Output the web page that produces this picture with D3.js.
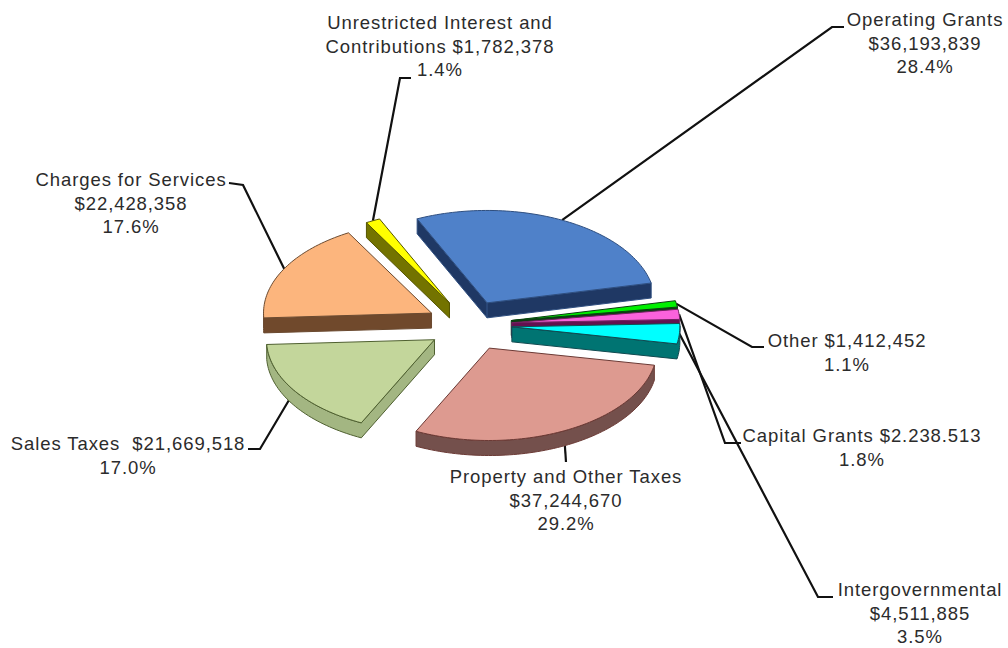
<!DOCTYPE html>
<html>
<head>
<meta charset="utf-8">
<script src="https://cdn.jsdelivr.net/npm/d3@7/dist/d3.min.js"></script>
<style>
  html, body { margin: 0; padding: 0; background: #fff; }
  svg { display: block; }
  text { font-family: "Liberation Sans", Arial, sans-serif; font-size: 18.5px; letter-spacing: 0.92px; fill: #2b2b2b; text-anchor: middle; }
</style>
</head>
<body>
<svg id="chart" width="1008" height="648"></svg>
<script>
// Revenue sources, clockwise from the start of the first slice
const categories = ["Operating Grants", "Other", "Capital Grants", "Intergovernmental",
  "Property and Other Taxes", "Sales Taxes", "Charges for Services",
  "Unrestricted Interest and Contributions"];
const amounts = [36193839, 1412452, 2238513, 4511885, 37244670, 21669518, 22428358, 1782378];
const percents = ["28.4%", "1.1%", "1.8%", "3.5%", "29.2%", "17.0%", "17.6%", "1.4%"];
const topColors = ["#4f81c9", "#00f000", "#fb62dc", "#00ffff", "#dd9a90", "#c3d69b", "#fcb57d", "#ffff00"];
const sideColors = ["#1f3864", "#0b3d12", "#63104f", "#007472", "#74504c", "#a3b682", "#70492c", "#737300"];
const edgeColors = ["#2f4f80", "#0a4010", "#70205f", "#104a50", "#6b3a35", "#4f6030", "#6b4a30", "#555500"];
const labelLines = [
  ["Operating Grants", "$36,193,839", "28.4%"],
  ["Other $1,412,452", "1.1%"],
  ["Capital Grants $2.238.513", "1.8%"],
  ["Intergovernmental", "$4,511,885", "3.5%"],
  ["Property and Other Taxes", "$37,244,670", "29.2%"],
  ["Sales Taxes  $21,669,518", "17.0%"],
  ["Charges for Services", "$22,428,358", "17.6%"],
  ["Unrestricted Interest and", "Contributions $1,782,378", "1.4%"]
];
// Label anchor (centre x, first baseline y) and leader-line bends, per slice
const labelPos = [[925, 26], [847, 347], [862, 442], [920, 596], [566, 483], [128, 450], [131, 186], [440, 29]];
const leaderBends = [
  [[832, 27], [844, 27]],
  [[752, 347], [764, 347]],
  [[725, 443], [741, 443]],
  [[818, 597], [833, 597]],
  [[566, 462]],
  [[260, 449], [248, 449]],
  [[243, 185], [229, 183]],
  [[400, 78], [411, 78]]
];
// Small hand placement on top of the regular explosion
const sliceNudge = [[0, 0], [0, 0], [0, 0], [0, 0], [2, 1], [5, 1], [4, 0], [3, 0]];
const drawOrder = [0, 1, 2, 3, 7, 6, 5, 4];

const cx = 467, cy = 325, radius = 168, tilt = 0.55, explode = 45, depth = 15, lineGap = 23.5;
const startAngle = -24.6 * Math.PI / 180;

const svg = d3.select("#chart");
const xScale = d3.scaleLinear().domain([-1, 1]).range([-radius, radius]);
const yScale = d3.scaleLinear().domain([-1, 1]).range([-radius * tilt, radius * tilt]);

const arcs = d3.pie().sort(null).value(d => d)
  .startAngle(startAngle).endAngle(startAngle + 2 * Math.PI)(amounts);

// Screen position of a unit-circle point on the tilted disc
const project = (a, r, ox, oy) => [ox + xScale(r * Math.sin(a)), oy - yScale(r * Math.cos(a))];

const slices = arcs.map((arc, i) => {
  const mid = (arc.startAngle + arc.endAngle) / 2;
  const ox = cx + explode * Math.sin(mid) + sliceNudge[i][0];
  const oy = cy - explode * tilt * Math.cos(mid) + sliceNudge[i][1];
  const steps = Math.max(3, Math.ceil((arc.endAngle - arc.startAngle) * 40));
  const rim = d3.range(steps + 1).map(k =>
    project(arc.startAngle + (arc.endAngle - arc.startAngle) * k / steps, 1, ox, oy));
  return { i, mid, ox, oy, rim, outline: [[ox, oy], ...rim, [ox, oy]] };
});

const line = d3.line();

// Leaders sit under the slices
const leaders = svg.append("g").attr("fill", "none").attr("stroke", "#111").attr("stroke-width", 2.2);
slices.forEach(s => {
  const p = project(s.mid, 1, s.ox, s.oy);
  const start = s.i === 4 ? [p[0], p[1] + depth] : p;
  leaders.append("path").attr("d", line([start, ...leaderBends[s.i]]));
});

const pie = svg.append("g").attr("stroke-linejoin", "round");
drawOrder.forEach(i => {
  const s = slices[i];
  const g = pie.append("g");
  // Walls: an outline edge travelling left on screen faces the viewer
  let run = [];
  const flush = () => {
    if (run.length > 1) {
      const low = run.map(([x, y]) => [x, y + depth]).reverse();
      g.append("path").attr("d", line([...run, ...low]) + "Z")
        .attr("fill", sideColors[i]).attr("stroke", edgeColors[i]).attr("stroke-width", 1);
    }
    run = [];
  };
  d3.pairs(s.outline).forEach(([a, b]) => {
    if (b[0] < a[0]) {
      if (!run.length) run.push(a);
      run.push(b);
    } else flush();
  });
  flush();
  g.append("path").attr("d", line(s.outline) + "Z")
    .attr("fill", topColors[i]).attr("stroke", edgeColors[i]).attr("stroke-width", 1);
});

const labels = svg.append("g");
labelLines.forEach((rows, i) => {
  const t = labels.append("text").attr("transform", `translate(${labelPos[i][0]},${labelPos[i][1]})`);
  rows.forEach((row, k) => t.append("tspan").attr("x", 0).attr("y", k * lineGap).attr("xml:space", "preserve").text(row));
});
</script>
</body>
</html>
